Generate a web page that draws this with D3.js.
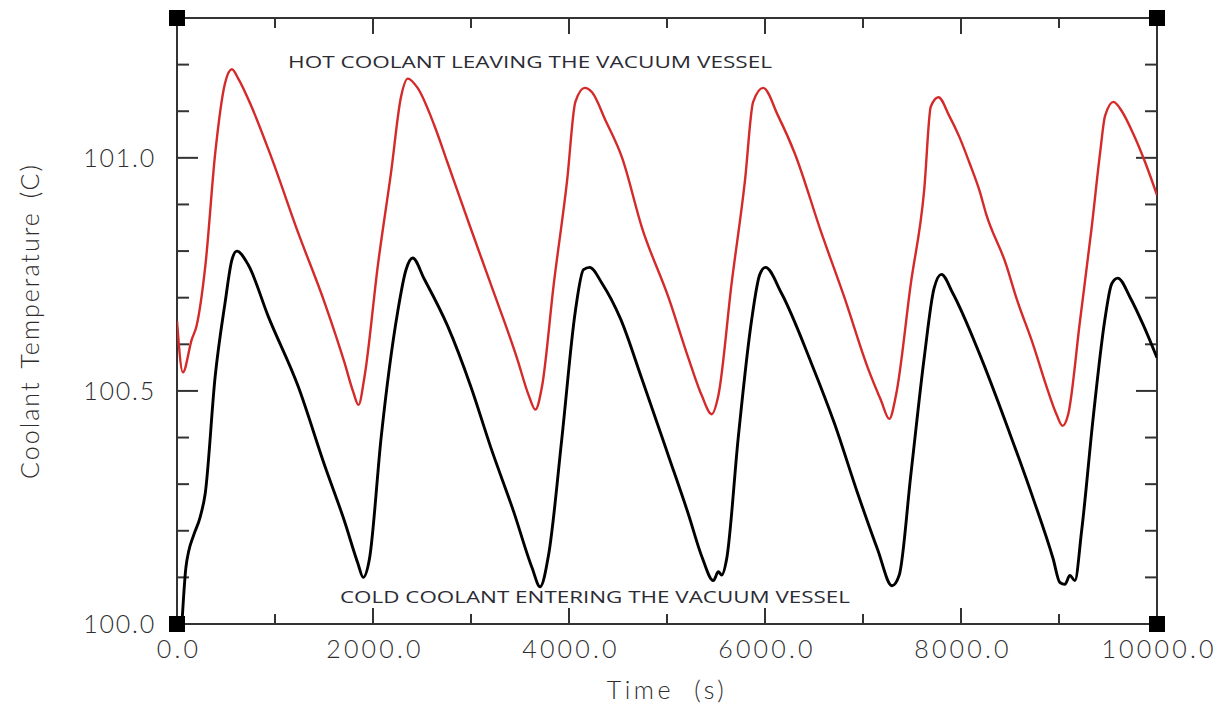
<!DOCTYPE html>
<html>
<head>
<meta charset="utf-8">
<script src="https://cdn.jsdelivr.net/npm/d3@7"></script>
<style>
  html, body { margin: 0; padding: 0; background: #fff; }
  svg { display: block; }
</style>
</head>
<body>
<svg id="chart" width="1228" height="709"></svg>
<script>
// ---- Data ----
const hotTime = [0, 60, 150, 200, 290, 390, 490, 560, 625, 760, 965, 1235, 1505, 1710, 1795, 1852, 1913, 2050, 2185, 2285, 2355, 2455, 2625, 2760, 2995, 3200, 3470, 3590, 3657, 3725, 3845, 3980, 4065, 4160, 4237, 4373, 4542, 4745, 5016, 5219, 5355, 5456, 5524, 5659, 5795, 5879, 5981, 6134, 6303, 6574, 6811, 7048, 7183, 7268, 7336, 7488, 7624, 7692, 7770, 7880, 7983, 8085, 8188, 8256, 8462, 8564, 8735, 8872, 8974, 9036, 9094, 9214, 9333, 9419, 9470, 9556, 9641, 9761, 9880, 10000];
const hotTemp = [100.65, 100.54, 100.61, 100.64, 100.77, 101.01, 101.16, 101.19, 101.17, 101.11, 101.00, 100.84, 100.69, 100.56, 100.50, 100.47, 100.53, 100.77, 100.97, 101.13, 101.17, 101.15, 101.07, 100.99, 100.85, 100.73, 100.57, 100.49, 100.46, 100.51, 100.73, 100.95, 101.12, 101.15, 101.14, 101.08, 101.00, 100.85, 100.70, 100.57, 100.49, 100.45, 100.49, 100.73, 100.95, 101.12, 101.15, 101.09, 101.01, 100.84, 100.70, 100.55, 100.48, 100.44, 100.49, 100.73, 100.93, 101.11, 101.13, 101.09, 101.045, 100.99, 100.93, 100.88, 100.77, 100.70, 100.60, 100.51, 100.45, 100.425, 100.45, 100.65, 100.85, 101.01, 101.09, 101.12, 101.10, 101.05, 100.99, 100.92];

const coldTime = [50, 90, 118, 169, 237, 288, 389, 491, 559, 610, 728, 931, 1236, 1507, 1710, 1846, 1900, 1964, 2083, 2252, 2337, 2405, 2523, 2760, 2997, 3200, 3437, 3624, 3705, 3793, 3928, 4064, 4148, 4210, 4339, 4525, 4745, 5016, 5219, 5355, 5473, 5524, 5558, 5609, 5727, 5862, 5947, 6005, 6167, 6472, 6709, 6946, 7149, 7296, 7370, 7488, 7624, 7725, 7800, 7915, 8188, 8496, 8735, 8940, 9009, 9060, 9111, 9162, 9231, 9350, 9470, 9538, 9600, 9727, 9863, 10000];
const coldTemp = [100.00, 100.12, 100.155, 100.19, 100.23, 100.28, 100.53, 100.69, 100.78, 100.80, 100.77, 100.66, 100.51, 100.34, 100.22, 100.13, 100.10, 100.14, 100.40, 100.67, 100.76, 100.785, 100.74, 100.64, 100.51, 100.38, 100.24, 100.12, 100.08, 100.15, 100.40, 100.67, 100.76, 100.765, 100.73, 100.655, 100.525, 100.36, 100.235, 100.145, 100.093, 100.112, 100.105, 100.14, 100.40, 100.65, 100.75, 100.765, 100.71, 100.56, 100.43, 100.28, 100.16, 100.082, 100.105, 100.32, 100.57, 100.72, 100.75, 100.71, 100.58, 100.41, 100.27, 100.14, 100.089, 100.085, 100.104, 100.093, 100.20, 100.445, 100.656, 100.73, 100.742, 100.70, 100.64, 100.571];

const xTickLabels = [0, 2000, 4000, 6000, 8000, 10000];
const yTickLabels = [100.0, 100.5, 101.0];
const xMinorTicks = [1000, 3000, 5000, 7000, 9000];
const yAllTicks = [100.1, 100.2, 100.3, 100.4, 100.5, 100.6, 100.7, 100.8, 100.9, 101.0, 101.1, 101.2];

const hotLabel = "HOT COOLANT LEAVING THE VACUUM VESSEL";
const coldLabel = "COLD COOLANT ENTERING THE VACUUM VESSEL";
const xTitle = "Time (s)";
const yTitle = "Coolant Temperature (C)";

// ---- Layout ----
const L = 177, R = 1157, T = 18, B = 624;
const svg = d3.select("#chart");
const x = d3.scaleLinear().domain([0, 10000]).range([L, R]);
const y = d3.scaleLinear().domain([100, 101.3]).range([B, T]);

const frameColor = "#333";
const tickFont = "Lato, 'DejaVu Sans', sans-serif";
const textColor = "#2e2e2e";

svg.append("defs").append("clipPath").attr("id", "clip")
  .append("rect").attr("x", L).attr("y", T).attr("width", R - L).attr("height", B - T);

// Frame
svg.append("rect").attr("x", L).attr("y", T).attr("width", R - L).attr("height", B - T)
  .attr("fill", "none").attr("stroke", frameColor).attr("stroke-width", 2);

// X ticks (bottom & top, inward)
const xMajorLen = 16, xMinorLen = 10;
const xt = svg.append("g").attr("stroke", frameColor).attr("stroke-width", 2);
xTickLabels.concat(xMinorTicks).forEach(v => {
  const len = xTickLabels.includes(v) ? xMajorLen : xMinorLen;
  xt.append("line").attr("x1", x(v)).attr("x2", x(v)).attr("y1", B).attr("y2", B - len);
  xt.append("line").attr("x1", x(v)).attr("x2", x(v)).attr("y1", T).attr("y2", T + len);
});

// Y ticks (left & right, inward)
const yt = svg.append("g").attr("stroke", frameColor).attr("stroke-width", 2);
yAllTicks.forEach(v => {
  const major = Math.abs(v * 2 - Math.round(v * 2)) < 1e-6;
  const len = major ? 21 : 12;
  yt.append("line").attr("x1", L).attr("x2", L + len).attr("y1", y(v)).attr("y2", y(v));
  yt.append("line").attr("x1", R).attr("x2", R - len).attr("y1", y(v)).attr("y2", y(v));
});

// Tick labels
svg.append("g").selectAll("text").data(xTickLabels).join("text")
  .attr("x", d => x(d) + 2).attr("y", 658)
  .attr("text-anchor", "middle")
  .attr("font-family", tickFont).attr("font-weight", 300)
  .attr("font-size", 25).attr("letter-spacing", 3.2)
  .attr("fill", textColor)
  .text(d => d.toFixed(1));

svg.append("g").selectAll("text").data(yTickLabels).join("text")
  .attr("x", 156).attr("y", d => y(d) + 9)
  .attr("text-anchor", "end")
  .attr("font-family", tickFont).attr("font-weight", 300)
  .attr("font-size", 25).attr("letter-spacing", 1.8)
  .attr("fill", textColor)
  .text(d => d.toFixed(1));

// Axis titles
svg.append("text").attr("x", 667).attr("y", 699)
  .attr("text-anchor", "middle")
  .attr("font-family", tickFont).attr("font-weight", 300)
  .attr("font-size", 25).attr("letter-spacing", 3.5).attr("word-spacing", 10)
  .attr("fill", textColor).text(xTitle);

svg.append("text")
  .attr("transform", "translate(39,321) rotate(-90)")
  .attr("text-anchor", "middle")
  .attr("font-family", tickFont).attr("font-weight", 300)
  .attr("font-size", 25).attr("letter-spacing", 2).attr("word-spacing", 4)
  .attr("fill", textColor).text(yTitle);

// Lines
const line = d3.line().x(d => x(d[0])).y(d => y(d[1])).curve(d3.curveMonotoneX);
const hotData = hotTime.map((t, i) => [t, hotTemp[i]]);
const coldData = coldTime.map((t, i) => [t, coldTemp[i]]);

const plot = svg.append("g").attr("clip-path", "url(#clip)");
plot.append("path").datum(hotData).attr("d", line)
  .attr("fill", "none").attr("stroke", "#d42a2a").attr("stroke-width", 2.4)
  .attr("stroke-linejoin", "round");
plot.append("path").datum(coldData).attr("d", line)
  .attr("fill", "none").attr("stroke", "#000").attr("stroke-width", 2.9)
  .attr("stroke-linejoin", "round");

// Annotations
svg.append("text").attr("x", 288).attr("y", 68)
  .attr("font-family", "'Open Sans', sans-serif").attr("font-size", 15.5)
  .attr("fill", "#2b2b33").attr("textLength", 484).attr("lengthAdjust", "spacingAndGlyphs")
  .text(hotLabel);
svg.append("text").attr("x", 340).attr("y", 603)
  .attr("font-family", "'Open Sans', sans-serif").attr("font-size", 15.5)
  .attr("fill", "#2b2b33").attr("textLength", 510).attr("lengthAdjust", "spacingAndGlyphs")
  .text(coldLabel);

// Corner squares
const corners = [[L, T], [R, T], [L, B], [R, B]];
svg.append("g").selectAll("rect").data(corners).join("rect")
  .attr("x", d => d[0] - 8).attr("y", d => d[1] - 8)
  .attr("width", 16).attr("height", 16).attr("fill", "#000");
</script>
</body>
</html>
